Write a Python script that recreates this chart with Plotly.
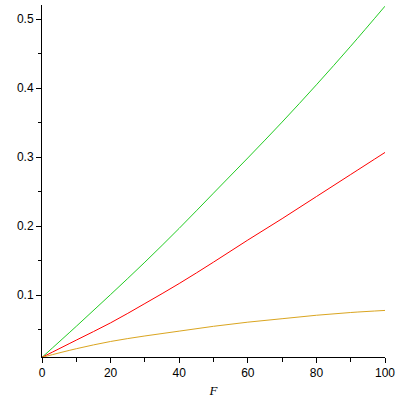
import plotly.graph_objects as go

F = [0, 10, 20, 30, 40, 50, 60, 70, 80, 90, 100]
green_vals = [0.010, 0.055, 0.101, 0.148, 0.197, 0.248, 0.299, 0.351, 0.405, 0.461, 0.519]
red_vals = [0.010, 0.035, 0.060, 0.088, 0.117, 0.148, 0.180, 0.211, 0.243, 0.275, 0.307]
orange_vals = [0.010, 0.0225, 0.033, 0.041, 0.048, 0.055, 0.061, 0.066, 0.071, 0.075, 0.078]

x_ticks = [0, 20, 40, 60, 80, 100]
y_ticks = [0.1, 0.2, 0.3, 0.4, 0.5]

fig = go.Figure()
for vals, col in [(green_vals, "#22cc22"), (red_vals, "#ff0000"), (orange_vals, "#daa520")]:
    fig.add_trace(go.Scatter(x=F, y=vals, mode="lines", line=dict(color=col, width=1, shape="spline"),
                             showlegend=False, hoverinfo="skip"))

axis_common = dict(showline=True, linecolor="black", linewidth=1, showgrid=False, zeroline=False,
                   ticks="outside", ticklen=5, tickwidth=1, tickcolor="black",
                   tickfont=dict(family="Liberation Sans, Arial, sans-serif", size=12, color="black"))

fig.update_layout(
    width=400, height=400,
    margin=dict(l=42, r=15, t=5, b=43),
    paper_bgcolor="white", plot_bgcolor="white",
    xaxis=dict(range=[0, 100], tickvals=x_ticks, ticktext=[str(v) for v in x_ticks],
               minor=dict(dtick=10, tick0=0, ticks="outside", ticklen=4, tickcolor="black", showgrid=False),
               title=dict(text="<i>F</i>", standoff=6,
                          font=dict(family="Liberation Serif, Times New Roman, serif", size=13, color="black")),
               **axis_common),
    yaxis=dict(range=[0.0105, 0.5207], tickvals=y_ticks, ticktext=[str(v) for v in y_ticks],
               minor=dict(dtick=0.05, tick0=0, ticks="outside", ticklen=3, tickcolor="black", showgrid=False),
               **axis_common),
)

fig.write_html("out.html", config={"displayModeBar": False},
               post_script="document.body.style.margin='0';document.body.style.padding='0';")
